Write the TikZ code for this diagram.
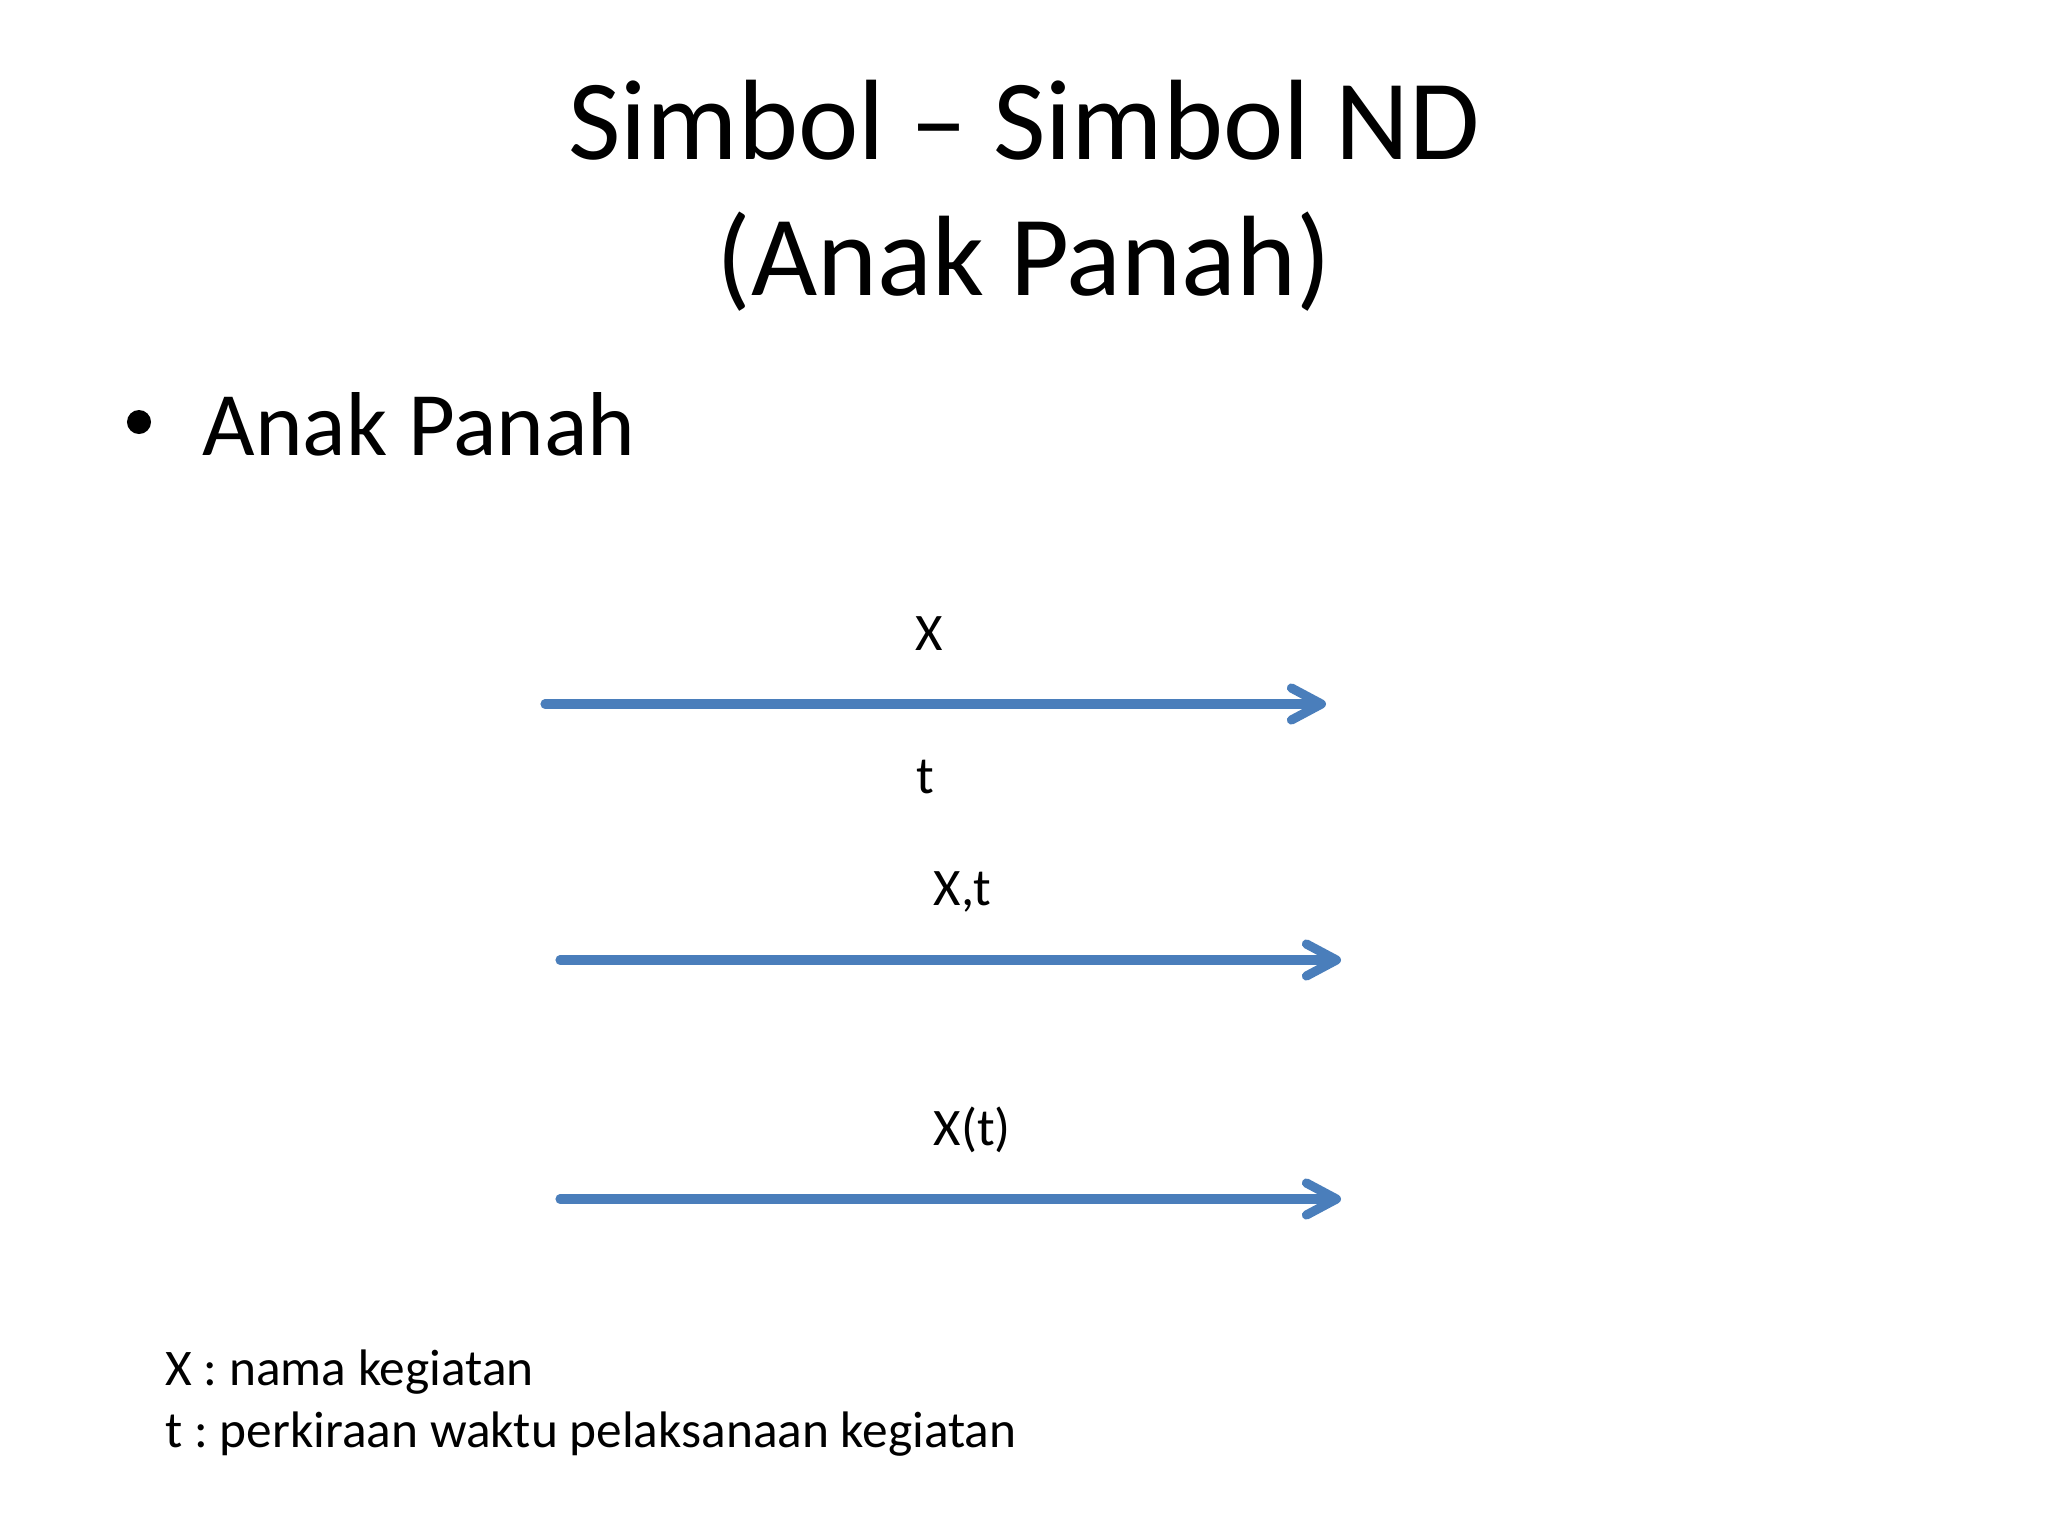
\documentclass[tikz,border=0pt]{standalone}
\usepackage{fontspec}
\setmainfont{Carlito}
\usetikzlibrary{arrows.meta}
\definecolor{panah}{HTML}{4A7EBB}
\frenchspacing
\begin{document}
\begin{tikzpicture}[x=0.01cm,y=-0.01cm,line join=round,line cap=round,
	panahline/.style={draw=panah,line width=2.6pt,-{Straight Barb[length=0.3cm,width=0.32cm,line cap=round,line join=round]}},
	lbl/.style={font=\fontsize{15}{18}\selectfont,inner sep=0pt}]
	\useasboundingbox[fill=white] (0,0) rectangle (2048,1536);
	% judul
	\node[anchor=base,inner sep=0pt,font=\fontsize{32.5}{38}\selectfont] (judulA) at (1024,159) {Simbol -- Simbol ND};
	\node[anchor=base,inner sep=0pt,font=\fontsize{32.5}{38}\selectfont] (judulB) at (1024,295) {(Anak Panah)};
	\node[circle,fill,inner sep=0pt,minimum size=0.24cm] (butir) at (139,422) {};
	\node[anchor=base west,inner sep=0pt,font=\fontsize{25.8}{32}\selectfont] (anakpanah) at (202,455) {Anak Panah};
	% anak panah
	\coordinate (a1) at (545,704);
	\coordinate (b1) at (1326,704);
	\coordinate (a2) at (560,960);
	\coordinate (b2) at (1341,960);
	\coordinate (a3) at (560,1199);
	\coordinate (b3) at (1341,1199);
	\draw[panahline] (a1) -- (b1);
	\draw[panahline] (a2) -- (b2);
	\draw[panahline] (a3) -- (b3);
	\node[lbl,anchor=base] (nX) at (929,650) {X};
	\node[lbl,anchor=base] (nt) at (925,793) {t};
	\node[lbl,anchor=base west] (nXt) at (933,905) {X,t};
	\node[lbl,anchor=base west] (nXkt) at (933,1145) {X(t)};
	% keterangan
	\node[anchor=base west,inner sep=0pt,font=\fontsize{14.6}{17}\selectfont] (ketX) at (165,1385) {X : nama kegiatan};
	\node[anchor=base west,inner sep=0pt,font=\fontsize{14.6}{17}\selectfont] (kett) at (165,1447) {t : perkiraan waktu pelaksanaan kegiatan};
\end{tikzpicture}
\end{document}
